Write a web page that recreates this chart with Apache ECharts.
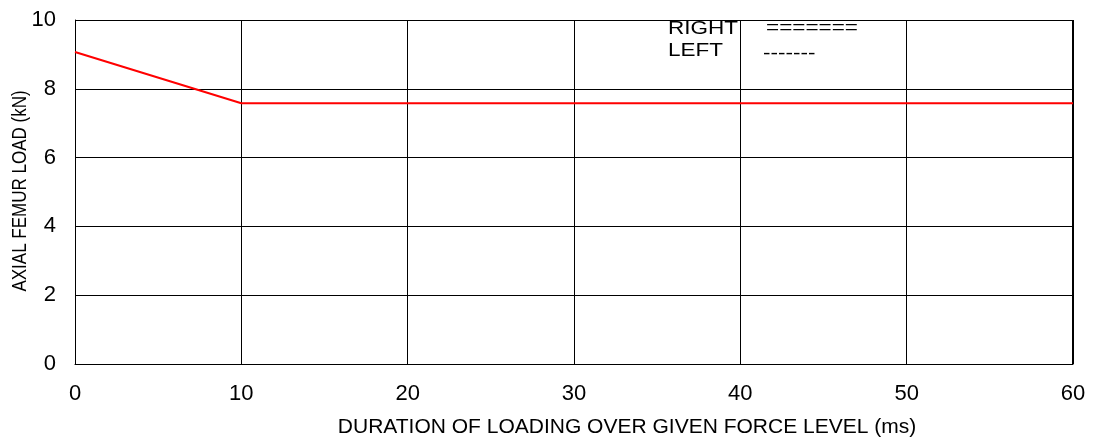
<!DOCTYPE html>
<html lang="en">
<head>
    <meta charset="UTF-8">
    <title></title>
    <style type="text/css">
        body{margin:0;background:#fff;}
        #main{width:1094px;height:446px;}
    </style>
</head>
<body>
<div id="main"></div>
<script src="https://cdn.jsdelivr.net/npm/echarts@6/dist/echarts.min.js"></script>
<script>
    // duration (ms) vs axial femur load (kN)
    var durations = [0, 10, 60];
    var loads = [9.07, 7.58, 7.58];
    var xTicks = [0, 10, 20, 30, 40, 50, 60];
    var yTicks = [0, 2, 4, 6, 8, 10];

    var font = 'Liberation Sans, Arial, sans-serif';
    var myChart = echarts.init(document.getElementById('main'));

    // the legend text in the source is a bit wider than it is tall
    function legendText(x, y, txt) {
        return {
            type: 'text', x: x, y: y, scaleX: 1.25, silent: true,
            style: {text: txt, fill: '#000', font: '18px ' + font, verticalAlign: 'middle'}
        };
    }

    var option = {
        animation: false,
        grid: {left: 75, right: 21, top: 20, bottom: 82},
        xAxis: {
            type: 'value',
            min: xTicks[0],
            max: xTicks[xTicks.length - 1],
            interval: 10,
            name: 'DURATION OF LOADING OVER GIVEN FORCE LEVEL (ms)',
            nameLocation: 'middle',
            nameGap: 53,
            nameTextStyle: {color: '#000', fontSize: 21, fontFamily: font, padding: [0, 0, 0, 106]},
            axisLine: {lineStyle: {color: '#000', width: 1}},
            axisTick: {show: false},
            axisLabel: {color: '#000', fontSize: 22, fontFamily: font, margin: 19},
            splitLine: {lineStyle: {color: '#000', width: 1}}
        },
        yAxis: {
            type: 'value',
            min: yTicks[0],
            max: yTicks[yTicks.length - 1],
            interval: 2,
            axisLine: {show: true, lineStyle: {color: '#000', width: 1}},
            axisTick: {show: false},
            axisLabel: {color: '#000', fontSize: 22, fontFamily: font, margin: 19},
            splitLine: {lineStyle: {color: '#000', width: 1}}
        },
        graphic: [
            {type: 'rect', shape: {x: 1072, y: 20, width: 1, height: 344}, style: {fill: '#000'}, silent: true},
            {
                type: 'text', x: 20, y: 191, rotation: Math.PI / 2, scaleX: 0.85, silent: true,
                style: {text: 'AXIAL FEMUR LOAD (kN)', fill: '#000', font: '20px ' + font, align: 'center', verticalAlign: 'middle'}
            },
            legendText(668, 29, 'RIGHT'),
            legendText(668, 51, 'LEFT'),
            legendText(766, 28, '======='),
            legendText(763, 54, '-------')
        ],
        series: [
            {
                name: 'LEFT',
                type: 'line',
                symbol: 'none',
                lineStyle: {color: '#ff0000', width: 2},
                data: durations.map(function (d, i) { return [d, loads[i]]; })
            }
        ]
    };

    myChart.setOption(option);
</script>
</body>
</html>
